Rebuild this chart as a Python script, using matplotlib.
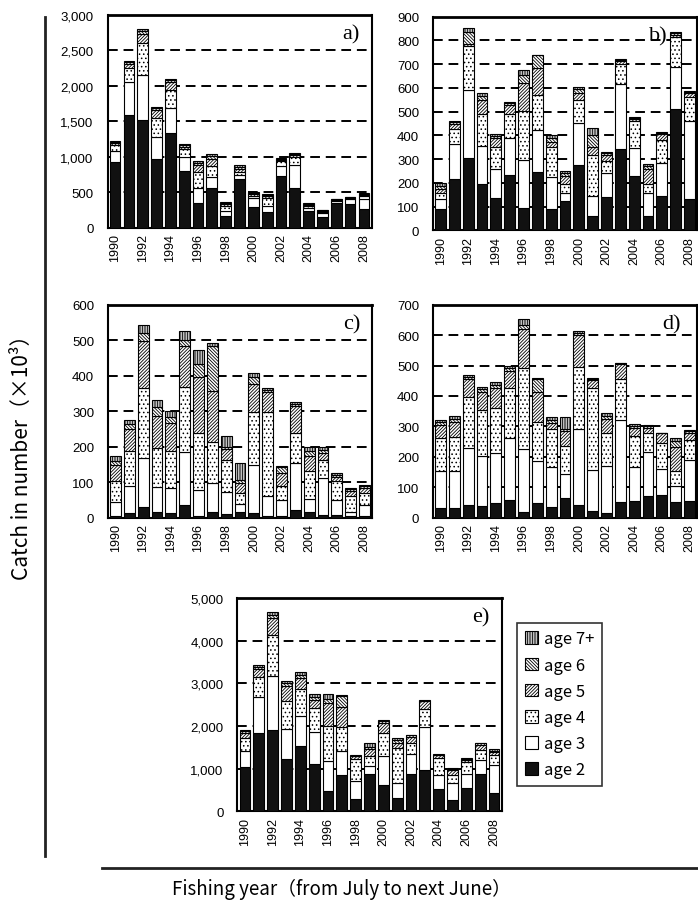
import matplotlib
matplotlib.use("Agg")
import matplotlib.pyplot as plt
import numpy as np
from matplotlib.ticker import FuncFormatter
from matplotlib.lines import Line2D

# fishing years (x categories)
years = list(range(1990, 2009))
age_labels = ["age 2", "age 3", "age 4", "age 5", "age 6", "age 7+"]

# panel a)
a_age2 = [920, 1587, 1520, 967, 1333, 800, 347, 554, 160, 685, 286, 225, 723, 554, 235, 146, 347, 330, 260]
a_age3 = [155, 460, 635, 305, 353, 190, 207, 160, 80, 60, 127, 75, 150, 333, 37, 56, 33, 70, 140]
a_age4 = [95, 200, 440, 280, 258, 118, 225, 150, 70, 35, 38, 113, 61, 113, 28, 20, 10, 12, 50]
a_age5 = [25, 55, 140, 100, 112, 32, 108, 103, 25, 45, 25, 30, 25, 25, 22, 14, 6, 10, 15]
a_age6 = [15, 25, 40, 30, 20, 18, 25, 40, 15, 25, 15, 16, 14, 12, 13, 9, 4, 5, 10]
a_age7 = [15, 20, 30, 20, 18, 16, 22, 31, 16, 28, 16, 15, 13, 10, 12, 9, 4, 5, 8]

# panel b)
b_age2 = [88, 215, 305, 196, 137, 232, 95, 245, 90, 122, 274, 62, 140, 341, 229, 59, 144, 511, 133]
b_age3 = [45, 148, 284, 159, 119, 155, 200, 177, 135, 35, 177, 81, 103, 275, 116, 98, 140, 177, 329]
b_age4 = [24, 64, 185, 134, 96, 103, 209, 146, 124, 37, 99, 176, 48, 85, 116, 39, 96, 126, 99]
b_age5 = [18, 20, 10, 61, 38, 38, 116, 116, 24, 35, 28, 30, 28, 12, 8, 61, 24, 10, 15]
b_age6 = [12, 8, 51, 15, 8, 7, 33, 54, 15, 12, 15, 52, 7, 5, 5, 12, 6, 6, 6]
b_age7 = [12, 6, 18, 13, 6, 6, 21, 2, 13, 9, 9, 29, 5, 4, 5, 9, 5, 5, 6]

# panel c)
c_age2 = [6, 12, 31, 15, 12, 36, 4, 15, 10, 17, 12, 6, 6, 22, 15, 8, 8, 6, 5]
c_age3 = [39, 78, 137, 72, 71, 150, 74, 82, 61, 21, 136, 56, 45, 132, 38, 104, 43, 11, 30]
c_age4 = [59, 97, 197, 108, 104, 183, 160, 115, 92, 31, 149, 237, 39, 84, 78, 50, 51, 45, 35]
c_age5 = [45, 63, 132, 92, 80, 114, 157, 146, 30, 29, 81, 56, 35, 78, 44, 20, 13, 14, 15]
c_age6 = [12, 14, 22, 24, 18, 18, 38, 127, 5, 9, 17, 5, 18, 5, 14, 9, 5, 5, 4]
c_age7 = [12, 11, 25, 21, 15, 24, 39, 6, 31, 47, 12, 4, 2, 4, 11, 7, 5, 4, 3]

# panel d)
d_age2 = [32, 32, 43, 39, 47, 59, 20, 47, 36, 64, 42, 23, 14, 50, 55, 72, 74, 50, 56]
d_age3 = [120, 122, 186, 165, 166, 204, 206, 140, 132, 80, 249, 134, 155, 272, 113, 145, 86, 55, 135]
d_age4 = [110, 112, 169, 151, 146, 163, 265, 129, 123, 93, 203, 270, 111, 134, 102, 63, 84, 49, 65]
d_age5 = [43, 50, 58, 59, 66, 57, 129, 98, 19, 49, 107, 25, 46, 50, 24, 14, 33, 79, 22]
d_age6 = [8, 9, 6, 8, 10, 9, 13, 42, 10, 5, 6, 3, 9, 1, 7, 6, 1, 20, 6]
d_age7 = [8, 8, 8, 8, 10, 8, 20, 2, 10, 41, 5, 3, 8, 1, 7, 5, 1, 8, 5]

# panel e)
e_age2 = [1050, 1840, 1900, 1220, 1520, 1120, 470, 850, 300, 870, 610, 320, 880, 960, 520, 270, 540, 880, 440]
e_age3 = [370, 830, 1260, 720, 720, 730, 720, 570, 415, 190, 690, 340, 460, 1010, 320, 400, 330, 320, 640]
e_age4 = [300, 470, 970, 650, 625, 560, 820, 550, 510, 240, 530, 830, 260, 420, 400, 190, 280, 240, 230]
e_age5 = [115, 195, 400, 340, 250, 200, 530, 470, 60, 155, 240, 120, 150, 190, 70, 100, 60, 120, 80]
e_age6 = [40, 50, 80, 70, 80, 75, 95, 260, 20, 55, 45, 60, 30, 10, 20, 25, 20, 30, 30]
e_age7 = [39, 45, 70, 60, 60, 60, 115, 20, 15, 100, 35, 40, 20, 10, 15, 20, 15, 20, 30]

# fill / hatch for each age class
faces = ["#111111", "white", "white", "white", "white", "white"]
hatches = [None, None, "....", "//////////", "\\\\\\\\\\\\\\\\\\\\", "||||||||||"]

plt.rcParams["hatch.linewidth"] = 0.6
plt.rcParams["font.family"] = ["Liberation Sans", "DejaVu Sans"]

fig = plt.figure(figsize=(6.98, 9.04), dpi=100)
W, H = 698.0, 904.0


def px_axes(left, top, width, height):
    return fig.add_axes([left / W, 1 - (top + height) / H, width / W, height / H])


def draw_panel(ax, layers, ymax, step, letter, letter_x):
    x = np.arange(len(years))
    bottom = np.zeros(len(years))
    for vals, fc, h in zip(layers, faces, hatches):
        ax.bar(x, vals, width=0.78, bottom=bottom, color=fc, edgecolor="black",
               linewidth=0.8, hatch=h, zorder=3)
        bottom += np.array(vals)
    ax.set_xlim(-0.55, len(years) - 0.45)
    ax.set_ylim(0, ymax)
    ax.set_yticks(np.arange(0, ymax + 1, step))
    ax.yaxis.set_major_formatter(FuncFormatter(lambda v, p: f"{int(v):,}"))
    for yv in np.arange(step, ymax, step):
        ax.axhline(yv, color="black", linestyle=(0, (5, 3)), linewidth=1.4, zorder=1)
    ax.set_xticks(x[::2])
    ax.set_xticklabels([str(y) for y in years[::2]], rotation=90, fontsize=9)
    ax.tick_params(axis="x", length=0, pad=4)
    ax.tick_params(axis="y", length=0, labelsize=9.5, pad=10)
    for s in ax.spines.values():
        s.set_linewidth(1.5)
    ax.spines["top"].set_linewidth(2)
    ax.text(letter_x, 0.955, letter, transform=ax.transAxes, ha="right", va="top",
            fontsize=16, family="Liberation Serif", zorder=5)


ax_a = px_axes(107.5, 15.7, 264, 213)
draw_panel(ax_a, [a_age2, a_age3, a_age4, a_age5, a_age6, a_age7], 3000, 500, "a)", 0.955)
ax_b = px_axes(433, 17.5, 264, 213.8)
draw_panel(ax_b, [b_age2, b_age3, b_age4, b_age5, b_age6, b_age7], 900, 100, "b)", 0.89)
ax_c = px_axes(108, 305.7, 264, 213)
draw_panel(ax_c, [c_age2, c_age3, c_age4, c_age5, c_age6, c_age7], 600, 100, "c)", 0.955)
ax_d = px_axes(433, 305.7, 264, 213)
draw_panel(ax_d, [d_age2, d_age3, d_age4, d_age5, d_age6, d_age7], 700, 100, "d)", 0.94)
ax_e = px_axes(237.3, 599, 264.4, 213.3)
draw_panel(ax_e, [e_age2, e_age3, e_age4, e_age5, e_age6, e_age7], 5000, 1000, "e)", 0.955)

# legend (top entry = oldest age)
bars = ax_e.containers
leg = fig.legend([bars[i][0] for i in range(5, -1, -1)], age_labels[::-1],
                 loc="upper left", bbox_to_anchor=(517 / W, 1 - 624 / H),
                 frameon=True, fancybox=False, edgecolor="black",
                 prop={"family": ["Noto Sans CJK JP", "DejaVu Sans"], "size": 12},
                 handlelength=0.8, handleheight=0.8, handletextpad=0.4,
                 labelspacing=0.55, borderpad=0.45, borderaxespad=0)
leg.get_frame().set_linewidth(1.2)

# frame lines of the whole figure
fig.add_artist(Line2D([45 / W, 45 / W], [1 - 18 / H, 1 - 857 / H], color="#222222", linewidth=2))
fig.add_artist(Line2D([102 / W, 1.0], [1 - 869 / H, 1 - 869 / H], color="#222222", linewidth=2))

fig.text(22 / W, 1 - 452 / H, "Catch in number（×10³）", rotation=90, ha="center", va="center",
         fontsize=15, family=["Noto Sans CJK JP", "DejaVu Sans"])
fig.text(341 / W, 1 - 889 / H, "Fishing year（from July to next June）", ha="center", va="center",
         fontsize=13.5, family=["Noto Sans CJK JP", "DejaVu Sans"])

fig.savefig("out.png", dpi=100)
